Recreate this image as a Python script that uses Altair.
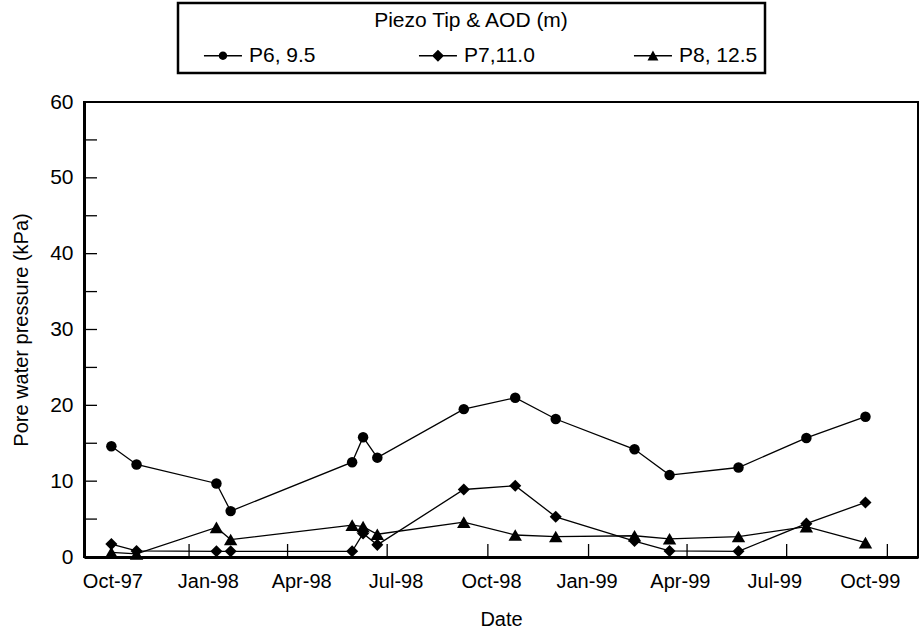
import altair as alt
import pandas as pd

# Sampling dates shared by all three piezometers
dates = ["1997-10-22", "1997-11-14", "1998-01-26", "1998-02-08", "1998-05-30",
         "1998-06-09", "1998-06-22", "1998-09-09", "1998-10-26", "1998-12-02",
         "1999-02-12", "1999-03-16", "1999-05-18", "1999-07-19", "1999-09-11"]

# Pore water pressure readings (kPa)
p6 = [14.6, 12.2, 9.7, 6.05, 12.5, 15.8, 13.1, 19.5, 21.0, 18.2, 14.2, 10.8, 11.8, 15.7, 18.5]
p7 = [1.7, 0.8, 0.75, 0.75, 0.75, 3.1, 1.6, 8.9, 9.4, 5.3, 2.1, 0.8, 0.75, 4.4, 7.2]
p8 = [0.6, 0.4, 3.9, 2.3, 4.2, 4.0, 3.0, 4.6, 2.9, 2.7, 2.8, 2.4, 2.7, 4.0, 1.9]

series_names = ["P6, 9.5", "P7,11.0", "P8, 12.5"]
marker_shapes = ["circle", "diamond", "triangle-up"]
marker_sizes = [110, 180, 160]

# Legend keys: a thin filled bar (the line) with the marker in its middle
KEY_LINE = "M0.71,-0.06H4.33V0.06H0.71Z"
legend_paths = [
    KEY_LINE + "M2.92,0A0.4,0.4,0,1,1,2.12,0A0.4,0.4,0,1,1,2.92,0Z",
    KEY_LINE + "M2.52,-0.57L3.09,0L2.52,0.57L1.95,0Z",
    KEY_LINE + "M2.52,-0.5L3.04,0.45L2.0,0.45Z",
]

# Axis tick positions
y_minor_ticks = [5, 10, 15, 20, 25, 30, 35, 40, 45, 50, 55]
x_tick_dates = ["1998-01-01", "1998-04-01", "1998-07-01", "1998-10-01",
                "1999-01-01", "1999-04-01", "1999-07-01", "1999-10-01"]
x_label_dates = ["1997-10-01"] + x_tick_dates

rows = []
for name, vals in zip(series_names, [p6, p7, p8]):
    for d, v in zip(dates, vals):
        rows.append({"date": pd.Timestamp(d), "value": v, "series": name})
df = pd.DataFrame(rows)

ytick_df = pd.DataFrame({"value": y_minor_ticks})
xtick_df = pd.DataFrame({"date": [pd.Timestamp(d) for d in x_tick_dates]})

FONT = "Liberation Sans"
W, H = 834, 455


def dt(s):
    t = pd.Timestamp(s)
    return alt.DateTime(year=t.year, month=t.month, date=t.day)


x_scale = alt.Scale(domain=[dt("1997-09-27"), dt("1999-10-29")], nice=False)
y_scale = alt.Scale(domain=[0, 60], nice=False)


def x_enc():
    return alt.X(
        "date:T", scale=x_scale, title="Date",
        axis=alt.Axis(values=[dt(d) for d in x_label_dates], format="%b-%y",
                      ticks=False, tickSize=0, grid=False, labelPadding=14,
                      titlePadding=18, domainWidth=3, labelFlush=False,
                      # date labels are spread evenly along the axis
                      labelOffset=alt.ExprRef("24 - 41.6 * datum.index")),
    )


def y_enc():
    return alt.Y(
        "value:Q", scale=y_scale, title="Pore water pressure (kPa)",
        axis=alt.Axis(values=[0, 10, 20, 30, 40, 50, 60], ticks=False, tickSize=0,
                      grid=False, labelPadding=11, titlePadding=18, domainWidth=3,
                      labelFontSize=21),
    )


lines = alt.Chart(df).mark_line(color="black", strokeWidth=1.3).encode(
    x=x_enc(), y=y_enc(), detail="series:N"
)

points = alt.Chart(df).mark_point(filled=True, color="black", opacity=1).encode(
    x=x_enc(), y=y_enc(),
    shape=alt.Shape("series:N", scale=alt.Scale(domain=series_names, range=marker_shapes),
                    legend=None),
    size=alt.Size("series:N", scale=alt.Scale(domain=series_names, range=marker_sizes),
                  legend=None),
)

legend_layer = alt.Chart(df).transform_filter("false").mark_point(
    filled=True, color="black", opacity=1
).encode(
    x=x_enc(), y=y_enc(),
    shape=alt.Shape(
        "series:N",
        scale=alt.Scale(domain=series_names, range=legend_paths),
        legend=alt.Legend(
            title="Piezo Tip & AOD (m)", orient="none", legendX=94, legendY=-99,
            direction="horizontal", columns=3, gridAlign="all", columnPadding=72,
            symbolSize=441, symbolOpacity=1, labelOffset=41,
            titleAnchor="middle", titlePadding=13, padding=7, titleLimit=600,
            labelLimit=300, strokeColor="black",
        ),
    ),
)

y_ticks = alt.Chart(ytick_df).mark_rule(color="black", strokeWidth=1.3).encode(
    y=y_enc(), x=alt.value(0), x2=alt.value(13)
)

x_ticks = alt.Chart(xtick_df).mark_rule(color="black", strokeWidth=1.3).encode(
    x=x_enc(), y=alt.value(H), y2=alt.value(H - 13)
)

chart = (
    alt.layer(y_ticks, x_ticks, lines, points, legend_layer)
    .resolve_scale(shape="independent", size="independent")
    .properties(
        width=W, height=H,
        autosize=alt.AutoSizeParams(type="none"),
        padding={"left": 84, "top": 102, "right": 3, "bottom": 79},
        background="white",
    )
    .configure_view(stroke="black", strokeWidth=2)
    .configure_axis(
        labelFont=FONT, titleFont=FONT, labelFontSize=20, titleFontSize=20,
        labelColor="black", titleColor="black", titleFontWeight="normal",
        domainColor="black",
    )
    .configure_legend(
        labelFont=FONT, titleFont=FONT, labelFontSize=21, titleFontSize=21,
        labelColor="black", titleColor="black", titleFontWeight="normal",
        strokeWidth=2.5,
    )
)

chart.save("out.html", embed_options={"renderer": "svg", "actions": False})
